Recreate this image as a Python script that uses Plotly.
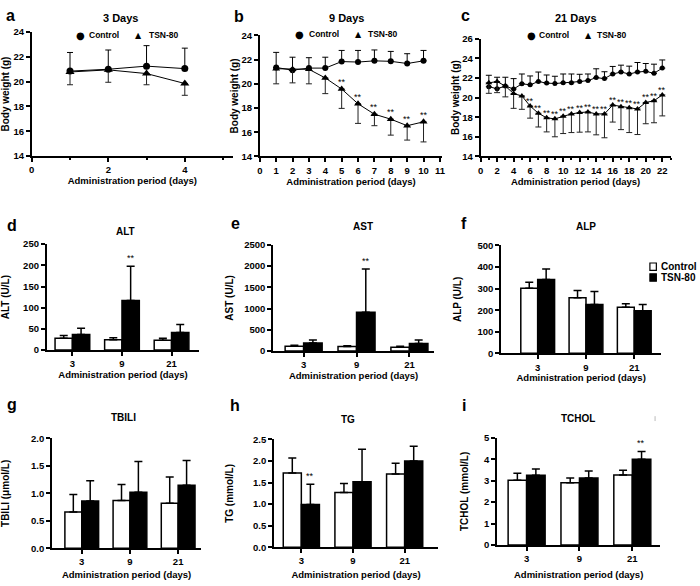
import plotly.graph_objects as go

FONT = "Liberation Sans, Arial, sans-serif"

# ---------------- Body weight data ----------------
days_a = [1, 2, 3, 4]
ctrl_a = [20.85, 21.0, 21.25, 21.05]
ctrl_a_sd = [1.5, 1.55, 1.65, 1.65]
tsn_a = [20.78, 20.95, 20.65, 19.85]
tsn_a_sd = [1.03, 1.0, 0.9, 0.95]

days_b = [1, 2, 3, 4, 5, 6, 7, 8, 9, 10]
ctrl_b = [21.35, 21.13, 21.3, 21.3, 21.84, 21.8, 21.9, 21.86, 21.68, 21.9]
ctrl_b_sd = [1.25, 1.07, 0.86, 0.9, 0.92, 0.96, 0.9, 0.82, 0.81, 0.86]
tsn_b = [21.25, 21.2, 21.2, 20.49, 19.57, 18.35, 17.49, 17.08, 16.54, 16.86]
tsn_b_sd = [1.25, 1.12, 1.2, 1.3, 1.6, 1.62, 0.95, 1.32, 1.19, 1.66]
sig_b = ["", "", "", "", "**", "**", "**", "**", "**", "**"]

days_c = list(range(1, 23))
ctrl_c = [21.1, 20.9, 21.17, 20.87, 21.4, 21.3, 21.63, 21.47, 21.43, 21.5, 21.5,
          21.63, 21.73, 22.03, 21.93, 22.4, 22.6, 22.4, 22.6, 22.67, 22.47, 23.0]
ctrl_c_sd = [1.17, 1.17, 0.9, 1.06, 1.0, 0.9, 0.97, 0.83, 0.74, 0.9, 0.9,
             0.74, 0.67, 0.9, 0.7, 0.77, 0.7, 0.8, 0.97, 0.8, 0.93, 0.83]
tsn_c = [21.5, 21.63, 21.17, 20.4, 20.17, 19.13, 18.4, 17.93, 17.83, 18.1, 18.33,
         18.47, 18.53, 18.33, 18.33, 19.23, 19.07, 18.97, 18.83, 19.5, 19.67, 20.27]
tsn_c_sd = [1.07, 1.13, 1.1, 1.5, 1.37, 1.23, 1.4, 1.43, 1.83, 1.77, 1.9,
            2.0, 2.03, 2.13, 2.43, 1.73, 2.34, 2.54, 2.6, 2.17, 2.24, 2.14]
sig_c = [""] * 5 + ["**"] * 17

# ---------------- Serum biochemistry data ----------------
periods = ["3", "9", "21"]

alt_ctrl = [27.8, 24.7, 23.0]
alt_ctrl_sd = [6.9, 4.6, 4.8]
alt_tsn = [37.0, 117.0, 41.7]
alt_tsn_sd = [14.7, 81.0, 18.5]
alt_sig = ["", "**", ""]

ast_ctrl = [115, 108, 92]
ast_ctrl_sd = [23, 15, 23]
ast_tsn = [192, 915, 177]
ast_tsn_sd = [70, 1016, 85]
ast_sig = ["", "**", ""]

alp_ctrl = [301.5, 257.6, 213.6]
alp_ctrl_sd = [27.5, 33.4, 16.4]
alp_tsn = [342, 225.8, 197]
alp_tsn_sd = [49, 60.2, 28.8]
alp_sig = ["", "", ""]

tbili_ctrl = [0.66, 0.87, 0.82]
tbili_ctrl_sd = [0.32, 0.29, 0.48]
tbili_tsn = [0.86, 1.02, 1.15]
tbili_tsn_sd = [0.37, 0.56, 0.45]
tbili_sig = ["", "", ""]

tg_ctrl = [1.72, 1.27, 1.70]
tg_ctrl_sd = [0.35, 0.21, 0.25]
tg_tsn = [0.99, 1.52, 2.0]
tg_tsn_sd = [0.47, 0.75, 0.34]
tg_sig = ["**", "", ""]

tchol_ctrl = [3.02, 2.9, 3.26]
tchol_ctrl_sd = [0.33, 0.22, 0.22]
tchol_tsn = [3.25, 3.12, 4.0]
tchol_tsn_sd = [0.29, 0.33, 0.36]
tchol_sig = ["", "", "**"]

W, H = 700, 586
TICK_SIZE = 9.5
XT_SIZE = 9.5
YT_SIZE = 10


def dom_x(a, b):
    return [a / W, b / W]


def dom_y(top, bottom):
    return [1 - bottom / H, 1 - top / H]


fig = go.Figure()
annotations = []
shapes = []

# ---------------- line panels ----------------
line_panels = [
    # (axis idx, days, ctrl, ctrl_sd, tsn, tsn_sd, sig, msize, sig_shift)
    (1, days_a, ctrl_a, ctrl_a_sd, tsn_a, tsn_a_sd, None, 7, 0),
    (2, days_b, ctrl_b, ctrl_b_sd, tsn_b, tsn_b_sd, sig_b, 6, 0),
    (3, days_c, ctrl_c, ctrl_c_sd, tsn_c, tsn_c_sd, sig_c, 5, -2),
]
for idx, d, c, csd, t, tsd, sig, ms, sh in line_panels:
    xa = "x" if idx == 1 else f"x{idx}"
    ya = "y" if idx == 1 else f"y{idx}"
    fig.add_trace(go.Scatter(
        x=d, y=c, mode="lines+markers", name="Control", showlegend=False,
        line=dict(color="black", width=1),
        marker=dict(symbol="circle", size=ms, color="black"),
        error_y=dict(type="data", symmetric=False, array=csd, arrayminus=[0] * len(d),
                     color="black", thickness=1, width=3),
        xaxis=xa, yaxis=ya))
    fig.add_trace(go.Scatter(
        x=d, y=t, mode="lines+markers", name="TSN-80", showlegend=False,
        line=dict(color="black", width=1),
        marker=dict(symbol="triangle-up", size=ms + 1, color="black"),
        error_y=dict(type="data", symmetric=False, array=[0] * len(d), arrayminus=tsd,
                     color="#222", thickness=1, width=3),
        xaxis=xa, yaxis=ya))
    if sig:
        for xi, yi, s in zip(d, t, sig):
            if s:
                annotations.append(dict(x=xi, y=yi, xref=xa, yref=ya, text=s, showarrow=False,
                                        yanchor="bottom", yshift=sh,
                                        font=dict(family=FONT, size=9, color="black")))

# ---------------- bar panels ----------------
bar_panels = [
    (4, alt_ctrl, alt_ctrl_sd, alt_tsn, alt_tsn_sd, alt_sig),
    (5, ast_ctrl, ast_ctrl_sd, ast_tsn, ast_tsn_sd, ast_sig),
    (6, alp_ctrl, alp_ctrl_sd, alp_tsn, alp_tsn_sd, alp_sig),
    (7, tbili_ctrl, tbili_ctrl_sd, tbili_tsn, tbili_tsn_sd, tbili_sig),
    (8, tg_ctrl, tg_ctrl_sd, tg_tsn, tg_tsn_sd, tg_sig),
    (9, tchol_ctrl, tchol_ctrl_sd, tchol_tsn, tchol_tsn_sd, tchol_sig),
]
for idx, c, csd, t, tsd, sig in bar_panels:
    xa, ya = f"x{idx}", f"y{idx}"
    fig.add_trace(go.Bar(
        x=periods, y=c, name="Control", showlegend=False, offsetgroup="c",
        marker=dict(color="white", line=dict(color="black", width=1.5)),
        error_y=dict(type="data", symmetric=False, array=csd, arrayminus=[0, 0, 0],
                     color="black", thickness=1.5, width=4),
        xaxis=xa, yaxis=ya))
    fig.add_trace(go.Bar(
        x=periods, y=t, name="TSN-80", showlegend=False, offsetgroup="t",
        marker=dict(color="black", line=dict(color="black", width=1.5)),
        error_y=dict(type="data", symmetric=False, array=tsd, arrayminus=[0, 0, 0],
                     color="black", thickness=1.5, width=4),
        xaxis=xa, yaxis=ya))
    for i, (m, s_d, s) in enumerate(zip(t, tsd, sig)):
        if s:
            annotations.append(dict(x=i, y=m + s_d, xref=xa, yref=ya, text=s, showarrow=False,
                                    xshift=9, yanchor="bottom", yshift=1,
                                    font=dict(family=FONT, size=9, color="black")))

# ---------------- axes ----------------
base_axis = dict(showline=True, linecolor="black", linewidth=1.5, ticks="outside",
                 ticklen=4, tickwidth=1.5, tickcolor="black", showgrid=False, zeroline=False,
                 tickfont=dict(family=FONT, size=TICK_SIZE, color="black"))

layout_axes = {}
XT = "<b>Administration period (days)</b>"


def xtitle(standoff):
    return dict(text=XT, standoff=standoff, font=dict(family=FONT, size=XT_SIZE, color="black"))


def ytitle(text, standoff):
    return dict(text=f"<b>{text}</b>", standoff=standoff,
                font=dict(family=FONT, size=YT_SIZE, color="black"))


def bold(vals, fmt="{}"):
    return [f"<b>{fmt.format(v)}</b>" for v in vals]


bw_ticks = [14, 16, 18, 20, 22, 24]
# a
layout_axes["xaxis"] = dict(base_axis, domain=dom_x(29, 232), range=[0, 5.26],
                            tickvals=[0, 2, 4], ticktext=bold([0, 2, 4]),
                            minor=dict(dtick=1, ticks="outside", ticklen=2, tickcolor="black"),
                            anchor="y", title=xtitle(1))
layout_axes["yaxis"] = dict(base_axis, domain=dom_y(26.5, 153), range=[14, 24],
                            tickvals=bw_ticks, ticktext=bold(bw_ticks),
                            anchor="x", title=ytitle("Body weight (g)", 2))
# b
layout_axes["xaxis2"] = dict(base_axis, domain=dom_x(259, 443), range=[0, 11.14],
                             tickvals=list(range(0, 12)), ticktext=bold(range(0, 12)),
                             anchor="y2", title=xtitle(4))
layout_axes["yaxis2"] = dict(base_axis, domain=dom_y(30, 153.3), range=[14, 24],
                             tickvals=bw_ticks, ticktext=bold(bw_ticks),
                             anchor="x2", title=ytitle("Body weight (g)", 1))
# c
c_yticks = [14, 16, 18, 20, 22, 24, 26]
layout_axes["xaxis3"] = dict(base_axis, domain=dom_x(481.7, 673.3), range=[0, 23],
                             tickvals=list(range(0, 23, 2)), ticktext=bold(range(0, 23, 2)),
                             minor=dict(dtick=1, ticks="outside", ticklen=2, tickcolor="black"),
                             anchor="y3", title=xtitle(4))
layout_axes["yaxis3"] = dict(base_axis, domain=dom_y(33.3, 153.3), range=[14, 26],
                             tickvals=c_yticks, ticktext=bold(c_yticks),
                             anchor="x3", title=ytitle("Body weight (g)", 1))

bar_axes = [
    # idx, x px, y px, xrange, yrange, ticks, fmt, ytitle, x standoff, y standoff
    (4, (44, 198), (242.7, 350.7), [-0.52, 2.56], [0, 250], [0, 50, 100, 150, 200, 250], "{:.0f}", "ALT (U/L)", 3, 14),
    (5, (272.3, 435), (243.3, 351.7), [-0.58, 2.47], [0, 2500], [0, 500, 1000, 1500, 2000, 2500], "{:.0f}", "AST (U/L)", 3, 9),
    (6, (502.3, 664), (244, 354), [-0.76, 2.56], [0, 500], [0, 100, 200, 300, 400, 500], "{:.0f}", "ALP (U/L)", 1, 14),
    (7, (49.3, 200), (440.7, 552.7), [-0.62, 2.48], [0, 2], [0, 0.5, 1.0, 1.5, 2.0], "{:.1f}", "TBILI (μmol/L)", 5, 22),
    (8, (273.3, 439), (441.7, 551.7), [-0.53, 2.65], [0, 2.5], [0, 0.5, 1.0, 1.5, 2.0, 2.5], "{:.1f}", "TG (mmol/L)", 6, 18),
    (9, (498.3, 663), (440, 549.3), [-0.56, 2.53], [0, 5], [0, 1, 2, 3, 4, 5], "{:.0f}", "TCHOL (mmol/L)", 8, 14),
]
for idx, (x0, x1), (y0, y1), xr, yr, tv, fmt, yt, xso, yso in bar_axes:
    layout_axes[f"xaxis{idx}"] = dict(base_axis, domain=dom_x(x0, x1), range=xr, type="category",
                                      tickvals=periods, ticktext=bold(periods),
                                      anchor=f"y{idx}", title=xtitle(xso))
    layout_axes[f"yaxis{idx}"] = dict(base_axis, domain=dom_y(y0, y1), range=yr,
                                      tickvals=tv, ticktext=bold(tv, fmt),
                                      anchor=f"x{idx}", title=ytitle(yt, yso))


def txt(x, y, s, size, family=FONT, **kw):
    d = dict(x=x / W, y=1 - y / H, xref="paper", yref="paper", text=s, showarrow=False,
             font=dict(family=family, size=size, color="black"), xanchor="center", yanchor="middle")
    d.update(kw)
    annotations.append(d)


# panel letters
for (lx, ly, l) in [(7.5, 9.6, "a"), (238, 10.5, "b"), (466, 9.6, "c"),
                    (9, 223.5, "d"), (234.5, 221.6, "e"), (464.5, 221.5, "f"),
                    (9.5, 406, "g"), (234.5, 407.5, "h"), (464.5, 407.5, "i")]:
    txt(lx, ly, f"<b>{l}</b>", 16)

# panel titles
for (tx, ty, t, sz) in [(118.7, 12, "3 Days", 11), (346.7, 12, "9 Days", 11), (577.5, 12, "21 Days", 11),
                        (123.3, 229.5, "ALT", 10), (363.3, 225, "AST", 10), (588.3, 225, "ALP", 10),
                        (121.7, 419.7, "TBILI", 10), (348, 421, "TG", 10), (579.5, 420, "TCHOL", 10)]:
    txt(tx, ty, f"<b>{t}</b>", sz)

# legends (row 1)
for (mx, cx, tx2, tx3, my) in [(77.7, 86, 136.7, 146, 30), (299.3, 307.3, 358.3, 366.7, 29),
                               (532.7, 540, 590.7, 598.3, 30)]:
    txt(mx, my, "●", 10, family="DejaVu Sans")
    txt(cx, my, "<b>Control</b>", 8.5, xanchor="left", xshift=-1)
    txt(tx2, my, "▲", 8, family="DejaVu Sans")
    txt(tx3, my, "<b>TSN-80</b>", 8.5, xanchor="left", xshift=-1)

# legend (bar charts): key boxes drawn as shapes, labels as text
for (ky, fill) in [(265.7, "white"), (276.7, "black")]:
    shapes.append(dict(type="rect", xref="paper", yref="paper",
                       x0=652.5 / W, x1=659.0 / W, y0=1 - (ky + 3.8) / H, y1=1 - (ky - 3.8) / H,
                       fillcolor=fill, line=dict(color="black", width=1.2)))
txt(661.5, 265.2, "<b>Control</b>", 10, xanchor="left")
txt(661.5, 277.2, "<b>TSN-80</b>", 10, xanchor="left")

# small grey mark near the top right of panel i
shapes.append(dict(type="line", xref="paper", yref="paper", x0=657.7 / W, x1=657.7 / W,
                   y0=1 - 423 / H, y1=1 - 418 / H, line=dict(color="#bbbbbb", width=1)))

fig.update_layout(
    width=W, height=H, margin=dict(l=0, r=0, t=0, b=0),
    paper_bgcolor="white", plot_bgcolor="white",
    barmode="group", bargap=0.3, bargroupgap=0,
    showlegend=False, hovermode=False,
    font=dict(family=FONT, size=10, color="black"),
    annotations=annotations,
    shapes=shapes,
    **layout_axes,
)

fig.write_html("out.html", config={"displayModeBar": False},
               post_script="document.body.style.margin='0px';")
